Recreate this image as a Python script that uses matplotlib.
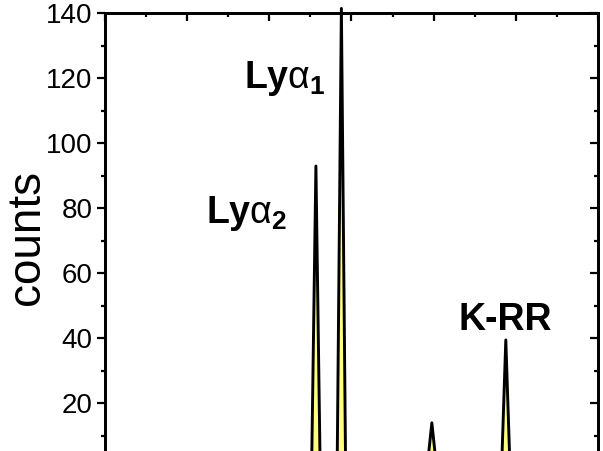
import matplotlib

matplotlib.use("Agg")
import matplotlib.pyplot as plt  # noqa: E402
from matplotlib.ticker import MultipleLocator  # noqa: E402

plt.rcParams["font.family"] = ["Liberation Sans", "DejaVu Sans"]
plt.rcParams["mathtext.fontset"] = "custom"
plt.rcParams["mathtext.rm"] = "Liberation Sans"
plt.rcParams["mathtext.bf"] = "Liberation Sans:bold"
plt.rcParams["mathtext.it"] = "Liberation Sans:italic"

# Spectrum (x in major-tick units of the hidden x axis)
energy = [0.00, 2.40, 2.517, 2.567, 2.617, 2.72, 2.827, 2.877, 2.927,
          3.50, 3.928, 3.978, 4.028, 4.50, 4.828, 4.878, 4.928, 6.00]
counts = [1, 1, 4, 93, 3, 2, 4, 141.5, 4,
          1, 2, 14, 2, 1, 1, 39.5, 1, 1]

peak_labels = [r"$\mathbf{Ly}\mathrm{\alpha}_{\mathbf{1}}$",
               r"$\mathbf{Ly}\mathrm{\alpha}_{\mathbf{2}}$",
               "K-RR"]
label_x = [2.19, 1.727, 4.866]
label_y = [117, 75.5, 42.6]

fig = plt.figure(figsize=(6.03, 4.51), dpi=100)
# the original is cropped at the bottom, so the axes run past the figure edge
ax = fig.add_axes([0.1741, -0.0384, 0.8176, 1.0089])

ax.fill_between(energy, counts, 0, color="#FFFF80", lw=0, clip_on=False)
ax.plot(energy, counts, color="black", lw=2.1, clip_on=False, zorder=3)

ax.set_xlim(0, 6)
ax.set_ylim(0, 140)

for s in ax.spines.values():
    s.set_linewidth(2.0)

ax.xaxis.set_major_locator(MultipleLocator(1))
ax.xaxis.set_minor_locator(MultipleLocator(0.5))
ax.yaxis.set_major_locator(MultipleLocator(20))
ax.yaxis.set_minor_locator(MultipleLocator(10))

ax.tick_params(axis="x", which="both", direction="in", top=True, bottom=False,
               labelbottom=False, width=1.6)
ax.tick_params(axis="x", which="major", length=6)
ax.tick_params(axis="x", which="minor", length=3)
ax.tick_params(axis="y", which="both", direction="out", left=True, right=False,
               width=1.6, labelsize=20, pad=3)
ax.tick_params(axis="y", which="major", length=6)
ax.tick_params(axis="y", which="minor", length=3)
ax.set_yticks([20, 40, 60, 80, 100, 120, 140])

# right side ticks point inward
ax_r = ax.twinx()
ax_r.set_ylim(ax.get_ylim())
ax_r.yaxis.set_major_locator(MultipleLocator(20))
ax_r.yaxis.set_minor_locator(MultipleLocator(10))
ax_r.tick_params(axis="y", which="both", direction="in", width=1.6, labelright=False)
ax_r.tick_params(axis="y", which="major", length=6)
ax_r.tick_params(axis="y", which="minor", length=3)
for s in ax_r.spines.values():
    s.set_linewidth(2.0)

for txt, x, y in zip(peak_labels, label_x, label_y):
    ax.text(x, y, txt, ha="center", va="baseline", fontsize=27,
            fontweight="bold", zorder=4)

fig.text(27 / 603, 1 - 237.5 / 451, "counts", rotation=90, ha="center",
         va="center", fontsize=33)

fig.savefig("out.png", dpi=100)
